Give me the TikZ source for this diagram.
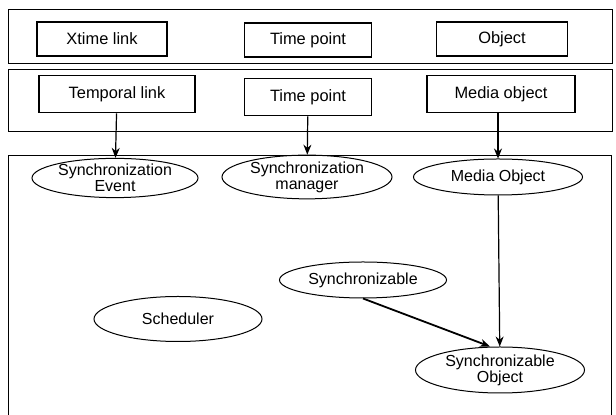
\documentclass[tikz,border=0pt]{standalone}
\usepackage{fontspec}
\setmainfont{Liberation Sans}
\usetikzlibrary{shapes.geometric,arrows.meta}

\begin{document}
\begin{tikzpicture}[x=0.5pt,y=-0.5pt,
  panel/.style={draw, line width=0.5pt},
  classbox/.style={draw, line width=0.8pt, inner sep=0pt, font=\fontsize{8.2}{9}\selectfont},
  oval/.style={draw, ellipse, line width=0.5pt, inner sep=0pt, align=center, font=\fontsize{8}{8}\selectfont},
  link/.style={-{Stealth[length=5pt,width=4pt]}, line width=0.6pt}]
  \useasboundingbox (0,0) rectangle (616,415);

  % Draw the three layers
  \draw[panel] (8,10) rectangle (612,64);
  \draw[panel] (8,70) rectangle (612,132);
  \draw[panel] (8,415) -- (8,156) -- (611,156) -- (611,415);

  % Top layer
  \node[classbox, minimum width=65pt, minimum height=17pt] (xlink) at (102,39) {Xtime link};
  \node[classbox, minimum width=63.5pt, minimum height=17pt] (tpoint) at (308,40) {Time point};
  \node[classbox, minimum width=65.5pt, minimum height=17pt] (obj) at (502,39) {Object};

  % Middle layer
  \node[classbox, minimum width=78pt, minimum height=18.5pt] (tlink) at (117,94) {Temporal link};
  \node[classbox, minimum width=63.5pt, minimum height=18.5pt] (mpoint) at (308,97) {Time point};
  \node[classbox, minimum width=74pt, minimum height=18.5pt] (mobj) at (501,94) {Media object};

  % Bottom layer
  \node[oval, minimum width=83pt, minimum height=18pt] (sevent) at (115,178) {Synchronization\\Event};
  \node[oval, minimum width=85pt, minimum height=19pt] (smanager) at (307,177) {Synchronization\\manager};
  \node[oval, minimum width=84.5pt, minimum height=18pt] (mobject) at (498,177) {Media Object};
  \node[oval, minimum width=83.5pt, minimum height=18pt] (sable) at (363,280) {Synchronizable};
  \node[oval, minimum width=84pt, minimum height=22.5pt] (sched) at (178,319) {Scheduler};
  \node[oval, minimum width=84.5pt, minimum height=23pt] (sobject) at (500,370) {Synchronizable\\Object};

  % Connect them
  \draw[link] (tlink) -- (sevent);
  \draw[link] (mpoint) -- (smanager);
  \draw[link] (mobj.south -| mobject.north) -- (mobject);
  \draw[link] (mobject) -- (sobject);
  \draw[link, line width=0.9pt] (sable.south) -- ([xshift=-5pt]sobject.north);
\end{tikzpicture}
\end{document}
